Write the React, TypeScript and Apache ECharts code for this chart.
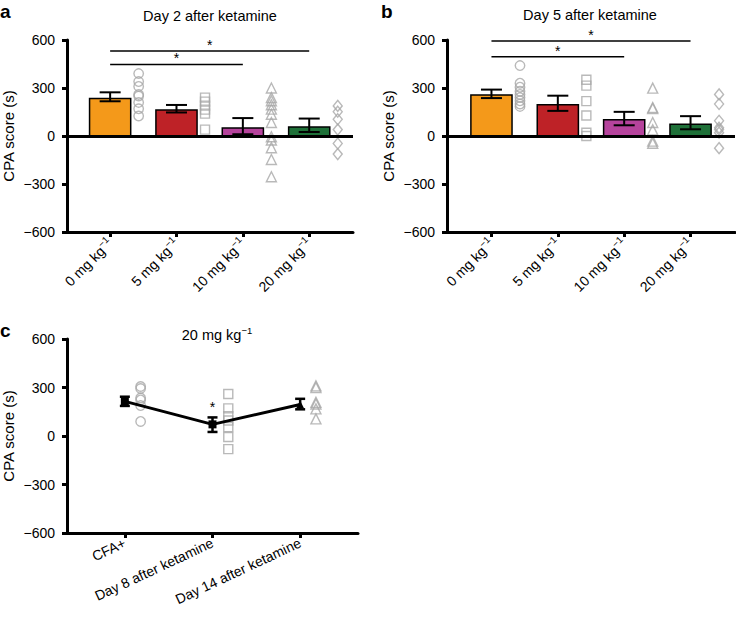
import React, { useEffect, useRef } from 'react';
import * as echarts from 'echarts';

// ---------- data ----------
const doseLabels = ['0 mg kg', '5 mg kg', '10 mg kg', '20 mg kg'];
const timeLabels = ['CFA+', 'Day 8 after ketamine', 'Day 14 after ketamine'];
const barColors = ['#F4991A', '#BE2227', '#B5439C', '#1E7038'];
const yTicks = [-600, -300, 0, 300, 600];

// panel a: Day 2 after ketamine
const dayAMeans = [235, 162, 50, 57];
const dayALow = [217, 147, 11, 25];
const dayAHigh = [273, 194, 112, 109];
const dayAPts0 = [390, 340, 310, 260, 250, 210, 170, 125];
const dayAPts5 = [240, 215, 190, 165, 140, 40];
const dayAPts10 = [300, 240, 220, 195, 168, 136, 84, -5, -25, -73, -147, -255];
const dayAPts20 = [188, 152, 105, 40, -47, -113];
const dayASig = [[0, 3, 531], [0, 2, 447]];

// panel b: Day 5 after ketamine
const dayBMeans = [256, 195, 101, 73];
const dayBLow = [237, 157, 67, 42];
const dayBHigh = [290, 252, 151, 124];
const dayBPts0 = [440, 330, 305, 280, 260, 240, 220, 200, 185];
const dayBPts5 = [352, 315, 218, 128, 20, 0];
const dayBPts10 = [299, 178, 172, 84, 38, -32, -45];
const dayBPts20 = [260, 200, 95, 52, 40, 21, -76];
const dayBSig = [[0, 3, 594], [0, 2, 495]];

// panel c: 20 mg/kg over time
const cMeans = [214, 72, 195];
const cLow = [186, 25, 165];
const cHigh = [243, 115, 230];
const cSymbols = ['rect', 'rect', 'triangle'];
const cPtsCFA = [306, 294, 235, 223, 188, 90];
const cPtsDay8 = [260, 171, 122, 96, 55, -6, -81];
const cPtsDay14 = [310, 300, 208, 198, 168, 106];
const cStar = [[1, 180]];

const FONT = '"Liberation Sans", Arial, Helvetica, sans-serif';
const GREY = '#a8a8a8';

const supRich = {
  m: { fontSize: 14, lineHeight: 19, color: '#000', fontFamily: FONT },
  s: { fontSize: 9.5, lineHeight: 19, color: '#000', fontFamily: FONT, verticalAlign: 'top' },
};

function xAxisFor(gridIndex: number, min: number, max: number, labels: string[], rotate: number, sup: boolean) {
  const ticks = labels.map((_, i) => i);
  return {
    type: 'value',
    gridIndex,
    min,
    max,
    axisLine: { show: true, onZero: false, lineStyle: { color: '#000', width: 3 } },
    axisTick: { show: true, customValues: ticks, length: 5, lineStyle: { color: '#000', width: 3 } },
    axisLabel: {
      show: true,
      customValues: ticks,
      rotate,
      margin: 9,
      color: '#000',
      fontSize: 14,
      fontFamily: FONT,
      formatter: (v: number) => {
        const t = labels[Math.round(v)] ?? '';
        return sup ? `{m|${t}}{s|−1}` : t;
      },
      rich: sup ? supRich : undefined,
    },
    splitLine: { show: false },
  };
}

function yAxisFor(gridIndex: number) {
  return {
    type: 'value',
    gridIndex,
    min: -600,
    max: 600,
    interval: 300,
    name: 'CPA score (s)',
    nameLocation: 'middle',
    nameGap: 51,
    nameTextStyle: { fontSize: 15, color: '#000', fontFamily: FONT },
    axisLine: { show: true, onZero: false, lineStyle: { color: '#000', width: 3 } },
    axisTick: { show: true, length: 5, lineStyle: { color: '#000', width: 3 } },
    axisLabel: {
      color: '#000',
      fontSize: 14,
      fontFamily: FONT,
      margin: 12,
      customValues: yTicks,
      formatter: (v: number) => (v < 0 ? '−' + Math.abs(v) : String(v)),
    },
    splitLine: { show: false },
  };
}

function barSeries(idx: number, means: number[], zeroLine: boolean) {
  return {
    type: 'custom',
    xAxisIndex: idx,
    yAxisIndex: idx,
    z: 2,
    data: means.map((m, i) => [i, m]),
    renderItem: (params: any, api: any) => {
      const x = api.value(0);
      const v = api.value(1);
      const a = api.coord([x - 0.31, v]);
      const b = api.coord([x + 0.31, 0]);
      return {
        type: 'rect',
        shape: { x: a[0], y: Math.min(a[1], b[1]), width: b[0] - a[0], height: Math.abs(b[1] - a[1]) },
        style: { fill: barColors[params.dataIndex], stroke: '#000', lineWidth: 1.5 },
      };
    },
    markLine: zeroLine
      ? {
          silent: true,
          symbol: ['none', 'none'],
          label: { show: false },
          lineStyle: { color: '#000', width: 3, type: 'solid' },
          data: [{ yAxis: 0 }],
          z: 5,
        }
      : undefined,
  };
}

function errSeries(idx: number, low: number[], high: number[], hw: number, lw: number) {
  return {
    type: 'custom',
    xAxisIndex: idx,
    yAxisIndex: idx,
    z: 6,
    data: low.map((l, i) => [i, l, high[i]]),
    renderItem: (params: any, api: any) => {
      const x = api.value(0);
      const lo = api.coord([x, api.value(1)]);
      const hi = api.coord([x, api.value(2)]);
      const st = { stroke: '#000', lineWidth: lw };
      return {
        type: 'group',
        children: [
          { type: 'line', shape: { x1: lo[0], y1: lo[1], x2: hi[0], y2: hi[1] }, style: st },
          { type: 'line', shape: { x1: lo[0] - hw, y1: lo[1], x2: lo[0] + hw, y2: lo[1] }, style: st },
          { type: 'line', shape: { x1: hi[0] - hw, y1: hi[1], x2: hi[0] + hw, y2: hi[1] }, style: st },
        ],
      };
    },
  };
}

function sigSeries(idx: number, sig: number[][]) {
  return {
    type: 'custom',
    xAxisIndex: idx,
    yAxisIndex: idx,
    clip: false,
    z: 6,
    data: sig,
    renderItem: (params: any, api: any) => {
      const a = api.coord([api.value(0), api.value(2)]);
      const b = api.coord([api.value(1), api.value(2)]);
      return {
        type: 'group',
        children: [
          { type: 'line', shape: { x1: a[0], y1: a[1], x2: b[0], y2: b[1] }, style: { stroke: '#000', lineWidth: 1.5 } },
          {
            type: 'text',
            style: {
              text: '*',
              x: (a[0] + b[0]) / 2,
              y: a[1] - 6,
              align: 'center',
              verticalAlign: 'middle',
              fontSize: 14,
              fontFamily: FONT,
              fill: '#000',
            },
          },
        ],
      };
    },
  };
}

function ptsSeries(idx: number, x: number, vals: number[], symbol: string, size: any) {
  return {
    type: 'scatter',
    xAxisIndex: idx,
    yAxisIndex: idx,
    z: 4,
    symbol,
    symbolSize: size,
    itemStyle: { color: 'rgba(0,0,0,0)', borderColor: GREY, borderWidth: 1.4 },
    data: vals.map((v) => [x, v]),
  };
}

const App: React.FC = () => {
  const ref = useRef<HTMLDivElement>(null);
  useEffect(() => {
    if (!ref.current) return;
    const chart = echarts.init(ref.current, undefined, { renderer: 'svg' });
    const offAB = 0.43;
    const offC = 0.18;
    const option: any = {
      animation: false,
      textStyle: { fontFamily: FONT },
      grid: [
        { left: 67, top: 40, width: 286, height: 192 },
        { left: 447, top: 40, width: 288, height: 192 },
        { left: 66, top: 339, width: 292, height: 194 },
      ],
      xAxis: [
        xAxisFor(0, -0.65, 3.66, doseLabels, 45, true),
        xAxisFor(1, -0.67, 3.67, doseLabels, 45, true),
        xAxisFor(2, -0.66, 2.66, timeLabels, 25, false),
      ],
      yAxis: [yAxisFor(0), yAxisFor(1), yAxisFor(2)],
      series: [
        barSeries(0, dayAMeans, true),
        errSeries(0, dayALow, dayAHigh, 10.5, 2),
        sigSeries(0, dayASig),
        ptsSeries(0, 0 + offAB, dayAPts0, 'circle', 9.5),
        ptsSeries(0, 1 + offAB, dayAPts5, 'rect', 9),
        ptsSeries(0, 2 + offAB, dayAPts10, 'triangle', 10),
        ptsSeries(0, 3 + offAB, dayAPts20, 'diamond', [9, 11]),

        barSeries(1, dayBMeans, true),
        errSeries(1, dayBLow, dayBHigh, 10.5, 2),
        sigSeries(1, dayBSig),
        ptsSeries(1, 0 + offAB, dayBPts0, 'circle', 9.5),
        ptsSeries(1, 1 + offAB, dayBPts5, 'rect', 9),
        ptsSeries(1, 2 + offAB, dayBPts10, 'triangle', 10),
        ptsSeries(1, 3 + offAB, dayBPts20, 'diamond', [9, 11]),

        ptsSeries(2, 0 + offC, cPtsCFA, 'circle', 9.5),
        ptsSeries(2, 1 + offC, cPtsDay8, 'rect', 9),
        ptsSeries(2, 2 + offC, cPtsDay14, 'triangle', 10),
        {
          type: 'line',
          xAxisIndex: 2,
          yAxisIndex: 2,
          z: 7,
          lineStyle: { color: '#000', width: 3 },
          itemStyle: { color: '#000' },
          symbolSize: 8,
          data: cMeans.map((m, i) => ({ value: [i, m], symbol: cSymbols[i] })),
        },
        errSeries(2, cLow, cHigh, 5, 2.5),
        {
          type: 'custom',
          xAxisIndex: 2,
          yAxisIndex: 2,
          z: 7,
          data: cStar,
          renderItem: (params: any, api: any) => {
            const p = api.coord([api.value(0), api.value(1)]);
            return {
              type: 'text',
              style: { text: '*', x: p[0], y: p[1], align: 'center', verticalAlign: 'middle', fontSize: 14, fontFamily: FONT, fill: '#000' },
            };
          },
        },
      ],
      graphic: [
        { type: 'text', style: { text: 'a', x: 0, y: 11, verticalAlign: 'middle', fontSize: 19, fontWeight: 'bold', fontFamily: FONT, fill: '#000' } },
        { type: 'text', style: { text: 'b', x: 381, y: 11, verticalAlign: 'middle', fontSize: 19, fontWeight: 'bold', fontFamily: FONT, fill: '#000' } },
        { type: 'text', style: { text: 'c', x: 0, y: 330, verticalAlign: 'middle', fontSize: 19, fontWeight: 'bold', fontFamily: FONT, fill: '#000' } },
        { type: 'text', style: { text: 'Day 2 after ketamine', x: 210, y: 16, align: 'center', verticalAlign: 'middle', fontSize: 14.5, fontFamily: FONT, fill: '#000' } },
        { type: 'text', style: { text: 'Day 5 after ketamine', x: 590, y: 15, align: 'center', verticalAlign: 'middle', fontSize: 14.5, fontFamily: FONT, fill: '#000' } },
        {
          type: 'text',
          style: {
            text: '{m|20 mg kg}{s|−1}',
            x: 217,
            y: 335,
            align: 'center',
            verticalAlign: 'middle',
            rich: {
              m: { fontSize: 14.5, lineHeight: 19, fill: '#000', fontFamily: FONT },
              s: { fontSize: 9.5, lineHeight: 19, fill: '#000', fontFamily: FONT, verticalAlign: 'top' },
            },
          },
        },
      ],
    };
    chart.setOption(option);
    return () => chart.dispose();
  }, []);
  return <div ref={ref} style={{ position: 'absolute', left: 0, top: 0, width: 736, height: 621 }} />;
};

export default App;
